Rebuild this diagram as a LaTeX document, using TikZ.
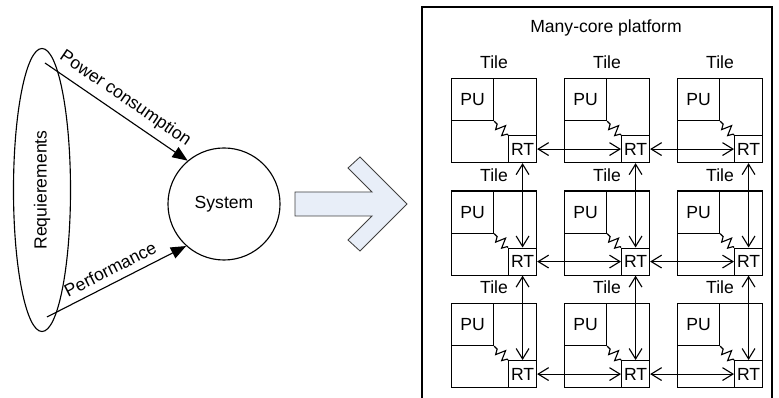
\documentclass[tikz,border=0pt]{standalone}
\usepackage{fontspec}
\setmainfont{Liberation Sans}
\usetikzlibrary{arrows.meta,positioning,shapes.geometric}
\definecolor{arrowfill}{RGB}{232,238,248}

\begin{document}
\begin{tikzpicture}[x=0.025cm,y=-0.025cm,line width=0.8pt,inner sep=0pt,
    every node/.style={font=\fontsize{12.5}{15}\selectfont}]
  % Styles
  \tikzset{req/.style={draw,ellipse,minimum width=7.075cm,minimum height=1.425cm,rotate=90},
           sys/.style={draw,circle,minimum size=2.8cm},
           demand/.style={-{Triangle[length=3.8mm,width=3mm]}},
           bigarrow/.style={draw=black!75,fill=arrowfill,line width=0.6pt},
           tilebox/.style={draw,minimum width=2.125cm,minimum height=2.1cm,anchor=north west},
           pubox/.style={draw,minimum size=1.05cm,anchor=north west},
           rtbox/.style={draw,minimum width=0.7cm,minimum height=0.675cm,anchor=south east},
           tilename/.style={anchor=base},
           link/.style={{Straight Barb[length=2.6mm,width=3.2mm]}-{Straight Barb[length=2.6mm,width=3.2mm]}}}

  \useasboundingbox (0,0) rectangle (779,398);

  % Requirements feeding the system
  \node[req] (req) at (42,190) {Requierements};
  \node[sys] (sys) at (224,204) {System};
  \coordinate (pwr) at (45,63);
  \coordinate (perf) at (47,317);
  \draw[demand] (pwr) -- (sys.130) node[midway,above=5pt,sloped] (lpwr) {Power consumption};
  \draw[demand] (perf) -- (sys.228) node[midway,above=5pt,sloped] (lperf) {Performance};

  % Block arrow towards the platform
  \draw[bigarrow] (295,192) -- (372,192) -- (348,168) -- (360,157) -- (407,204)
    -- (360,251) -- (348,240) -- (372,216) -- (295,216) -- cycle;

  % Platform frame (runs off the bottom)
  \draw (422,398) -- (422,7) -- (772,7) -- (772,398);
  \node[anchor=base] (title) at (606,32.5) {Many-core platform};

  % 3x3 grid of tiles: PU, router and the link between them
  \foreach \r in {1,2,3}{
    \foreach \c in {1,2,3}{
      \node[tilebox] (t\r\c) at ({451+113*(\c-1)},{78+112.5*(\r-1)}) {};
      \node[pubox] (pu\r\c) at (t\r\c.north west) {PU};
      \node[rtbox] (rt\r\c) at (t\r\c.south east) {RT};
      \node[tilename] (lb\r\c) at ([yshift=0.225cm]t\r\c.north) {Tile};
      \draw (pu\r\c.south east) -- ++(3,3) -- ++(-1.5,5.5) -- ++(10,-4) -- ++(-4,10)
        -- ++(5.5,-1.5) -- (rt\r\c.north west);
    }
  }

  % Mesh links between routers
  \foreach \r in {1,2,3}{
    \draw[link] (rt\r1.east) -- (rt\r2.west);
    \draw[link] (rt\r2.east) -- (rt\r3.west);
  }
  \foreach \c in {1,2,3}{
    \draw[link] (rt1\c.south) -- (rt2\c.north);
    \draw[link] (rt2\c.south) -- (rt3\c.north);
  }
\end{tikzpicture}
\end{document}
